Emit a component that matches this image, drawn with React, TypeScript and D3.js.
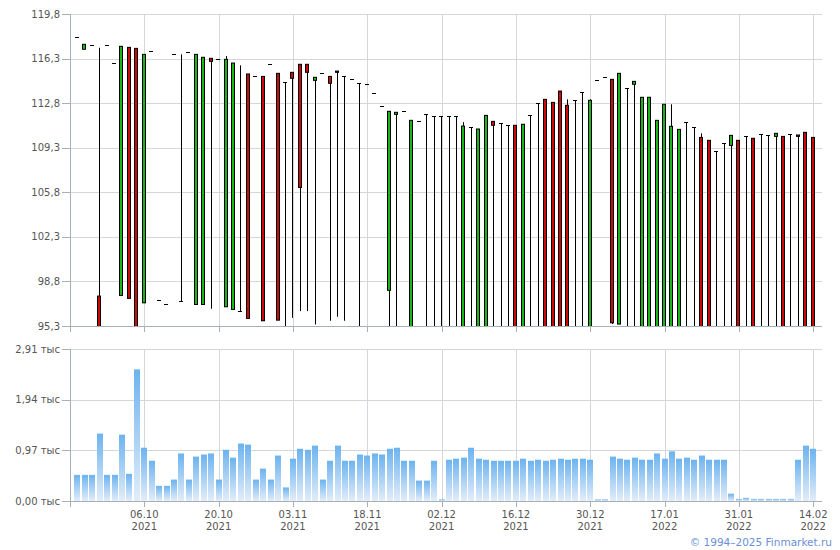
import React from "react";
import * as d3 from "d3";

// ---- Data ----
const openP = [
  117.97, 117.03, 117.34, 97.65, 117.34, 115.93, 97.7, 117.18, 117.1, 97.12,
  116.87, 97.31, 96.99, 116.63, 97.23, 116.79, 96.99, 96.99, 116.32, 116.24,
  96.81, 96.6, 96.44, 115.09, 114.9, 114.9, 115.85, 115.14, 114.46, 115.22,
  115.85, 115.85, 114.59, 115.14, 114.9, 115.32, 114.9, 114.67, 114.36, 114.28,
  113.57, 112.55, 98.1, 111.92, 112.16, 95.0, 111.37, 111.92, 111.76, 111.76,
  111.76, 111.76, 95.0, 110.92, 95.0, 95.0, 111.37, 111.21, 111.06, 111.06,
  95.0, 111.84, 112.78, 113.1, 112.86, 113.75, 112.63, 113.02, 113.65, 95.0,
  114.59, 114.83, 114.67, 95.45, 113.96, 114.28, 95.0, 95.0, 95.0, 95.0,
  95.0, 95.0, 111.29, 110.9, 110.11, 109.88, 109.01, 109.64, 109.48, 109.88,
  110.19, 110.04, 110.35, 110.27, 110.19, 110.19, 110.35, 110.3, 110.51, 110.11,
];
const closeP = [
  117.97, 117.42, 117.34, 95.0, 117.34, 115.93, 117.26, 97.47, 95.0, 116.63,
  116.87, 97.31, 96.99, 116.63, 97.23, 116.79, 116.63, 116.4, 116.08, 116.24,
  116.24, 115.95, 96.44, 95.9, 114.9, 95.71, 115.85, 95.76, 114.46, 114.75,
  106.18, 115.22, 114.83, 115.14, 114.36, 115.22, 114.9, 114.67, 114.36, 114.28,
  113.57, 112.55, 112.16, 112.08, 112.16, 111.45, 111.37, 111.92, 111.76, 111.76,
  111.76, 111.76, 111.0, 110.92, 110.77, 111.84, 111.06, 111.21, 111.06, 95.0,
  111.14, 111.84, 112.78, 95.0, 95.0, 95.0, 95.0, 113.02, 113.65, 113.02,
  114.59, 114.83, 95.55, 115.14, 113.96, 114.51, 113.26, 113.26, 111.45, 112.71,
  110.98, 110.74, 111.29, 110.9, 95.0, 95.0, 109.01, 109.64, 110.27, 95.0,
  110.19, 95.0, 110.35, 110.27, 110.43, 95.0, 110.35, 110.19, 95.0, 95.0,
];
const highP = [
  117.97, 117.42, 117.34, 117.15, 117.34, 115.93, 117.26, 117.18, 117.1, 116.63,
  116.87, 97.31, 96.99, 116.63, 116.63, 116.79, 116.63, 116.4, 116.32, 116.24,
  116.5, 115.95, 115.77, 115.09, 114.9, 114.9, 115.85, 115.14, 114.46, 115.22,
  115.85, 115.85, 114.83, 115.14, 114.9, 115.32, 114.9, 114.67, 114.36, 114.28,
  113.57, 112.55, 112.16, 112.08, 112.16, 111.45, 111.37, 111.92, 111.76, 111.76,
  111.76, 111.76, 111.31, 110.92, 110.77, 111.84, 111.37, 111.21, 111.06, 111.06,
  111.14, 111.84, 112.78, 113.1, 112.86, 113.75, 113.1, 113.02, 113.65, 113.1,
  114.59, 114.83, 114.67, 115.14, 113.96, 114.51, 113.26, 113.26, 111.45, 112.71,
  112.71, 110.74, 111.29, 110.9, 110.43, 109.88, 109.01, 109.64, 110.27, 109.88,
  110.19, 110.04, 110.35, 110.27, 110.43, 110.19, 110.35, 110.3, 110.51, 110.11,
];
const lowP = [
  117.97, 117.03, 117.34, 95.0, 117.34, 115.93, 97.7, 97.47, 95.0, 97.12,
  116.87, 97.31, 96.99, 116.63, 97.23, 116.79, 96.99, 96.99, 96.65, 116.24,
  96.81, 96.6, 96.44, 95.9, 114.9, 95.71, 115.85, 95.76, 95.0, 95.94,
  96.47, 96.47, 95.42, 115.14, 95.71, 96.02, 95.71, 114.67, 95.0, 114.28,
  113.57, 112.55, 95.0, 95.0, 112.16, 95.0, 111.37, 95.0, 95.0, 95.0,
  95.0, 95.0, 95.0, 95.0, 95.0, 95.0, 95.0, 95.0, 95.0, 95.0,
  95.0, 95.0, 95.0, 95.0, 95.0, 95.0, 95.0, 95.0, 95.0, 95.0,
  114.59, 114.83, 95.45, 95.45, 95.0, 95.0, 95.0, 95.0, 95.0, 95.0,
  95.0, 95.0, 95.0, 95.0, 95.0, 95.0, 95.0, 95.0, 95.0, 95.0,
  95.0, 95.0, 95.0, 95.0, 95.0, 95.0, 95.0, 95.0, 95.0, 95.0,
];
const volume = [
  0.5, 0.5, 0.5, 1.29, 0.5, 0.5, 1.27, 0.52, 2.52, 1.02,
  0.77, 0.29, 0.29, 0.41, 0.91, 0.41, 0.85, 0.89, 0.91, 0.41,
  0.98, 0.83, 1.1, 1.08, 0.41, 0.62, 0.41, 0.87, 0.26, 0.81,
  1.0, 0.98, 1.06, 0.41, 0.77, 1.06, 0.77, 0.77, 0.89, 0.87,
  0.91, 0.89, 1.0, 1.02, 0.77, 0.77, 0.39, 0.39, 0.77, 0.03,
  0.79, 0.81, 0.83, 1.02, 0.81, 0.79, 0.77, 0.77, 0.77, 0.77,
  0.81, 0.77, 0.79, 0.77, 0.79, 0.81, 0.79, 0.81, 0.81, 0.79,
  0.03, 0.03, 0.85, 0.81, 0.79, 0.83, 0.79, 0.79, 0.91, 0.81,
  0.95, 0.81, 0.83, 0.79, 0.87, 0.79, 0.79, 0.79, 0.14, 0.04,
  0.06, 0.04, 0.04, 0.04, 0.04, 0.04, 0.04, 0.79, 1.06, 1.0,
];
const priceTicks = [95.3, 98.8, 102.3, 105.8, 109.3, 112.8, 116.3, 119.8];
const volTicks = [0, 0.97, 1.94, 2.91];
const dateTickIdx = [9, 19, 29, 39, 49, 59, 69, 79, 89, 99];
const dateTickDay = ["06.10", "20.10", "03.11", "18.11", "02.12", "16.12", "30.12", "17.01", "31.01", "14.02"];
const dateTickYear = ["2021", "2021", "2021", "2021", "2021", "2021", "2021", "2022", "2022", "2022"];

const W = 840;
const H = 550;
const plotL = 70;
const plotR = 822;
const pTop = 14;
const pBot = 326;
const vTop = 349;
const vBot = 501;
const gridColor = "#d3d7db";
const axisColor = "#a9afb6";
const textColor = "#555";
const font = "'DejaVu Sans', Verdana, sans-serif";

export default function App() {
  const n = closeP.length;
  const x = d3.scaleLinear().domain([0, n - 1]).range([77.4, 813.2]);
  const yP = d3.scaleLinear().domain([95.3, 119.8]).range([pBot, pTop]);
  const yV = d3.scaleLinear().domain([0, 2.91]).range([vBot, vTop]);
  const fmtP = (v: number) => d3.format(".1f")(v).replace(".", ",");
  const fmtV = (v: number) => d3.format(".2f")(v).replace(".", ",") + " тыс";
  const px = (v: number) => Math.round(v) + 0.5;

  const candles = d3.range(n).map((i) => {
    const cx = Math.floor(x(i));
    const o = openP[i], c = closeP[i], h = highP[i], l = lowP[i];
    const wx = cx + 0.5;
    const els: React.ReactNode[] = [];
    if (h !== l) {
      els.push(
        <line key="w" x1={wx} x2={wx} y1={yP(h)} y2={yP(l)} stroke="#000" strokeWidth={1} />
      );
    }
    if (o === c) {
      const yy = px(yP(o));
      els.push(<line key="d" x1={cx - 2} x2={cx + 2} y1={yy} y2={yy} stroke="#000" strokeWidth={1} />);
    } else {
      const top = yP(Math.max(o, c));
      const bot = yP(Math.min(o, c));
      els.push(
        <rect
          key="b"
          x={cx - 1.5}
          y={top}
          width={3}
          height={Math.max(bot - top, 0.5)}
          fill={c > o ? "#19b819" : "#cc0a0a"}
          stroke="#000"
          strokeWidth={1}
        />
      );
    }
    return <g key={i}>{els}</g>;
  });

  return (
    <svg
      width={W}
      height={H}
      style={{ position: "absolute", left: 0, top: 0, background: "#fff" }}
      fontFamily={font}
    >
      <defs>
        <clipPath id="pclip">
          <rect x={plotL} y={pTop - 2} width={plotR - plotL} height={pBot - pTop + 2} />
        </clipPath>
        <linearGradient id="vgrad" x1="0" y1="0" x2="0" y2="1">
          <stop offset="0%" stopColor="#6cb3ef" />
          <stop offset="100%" stopColor="#e2edf9" />
        </linearGradient>
      </defs>

      {/* ---------- price panel ---------- */}
      {priceTicks.map((t) => (
        <line key={"pg" + t} x1={plotL} x2={plotR} y1={px(yP(t))} y2={px(yP(t))} stroke={gridColor} />
      ))}
      {dateTickIdx.map((i) => (
        <line key={"pv" + i} x1={px(x(i))} x2={px(x(i))} y1={pTop} y2={pBot} stroke={gridColor} />
      ))}
      <g clipPath="url(#pclip)">{candles}</g>
      <line x1={px(plotL)} x2={px(plotL)} y1={pTop} y2={pBot + 6} stroke={axisColor} />
      <line x1={plotL} x2={plotR} y1={px(pBot)} y2={px(pBot)} stroke={axisColor} />
      {priceTicks.map((t) => (
        <g key={"pt" + t}>
          <line x1={62} x2={plotL} y1={px(yP(t))} y2={px(yP(t))} stroke={axisColor} />
          <text x={60} y={yP(t)} dy="0.35em" textAnchor="end" fontSize={10} fill={textColor}>
            {fmtP(t)}
          </text>
        </g>
      ))}
      {dateTickIdx.map((i) => (
        <line key={"ptx" + i} x1={px(x(i))} x2={px(x(i))} y1={pBot} y2={pBot + 6} stroke={axisColor} />
      ))}

      {/* ---------- volume panel ---------- */}
      {volTicks.map((t) => (
        <line key={"vg" + t} x1={plotL} x2={plotR} y1={px(yV(t))} y2={px(yV(t))} stroke={gridColor} />
      ))}
      {dateTickIdx.map((i) => (
        <line key={"vv" + i} x1={px(x(i))} x2={px(x(i))} y1={vTop} y2={vBot} stroke={gridColor} />
      ))}
      {volume.map((v, i) => {
        const top = yV(v);
        return (
          <rect
            key={"vb" + i}
            x={Math.round(x(i) - 3)}
            y={top}
            width={6}
            height={Math.max(vBot - top, 0)}
            fill="url(#vgrad)"
          />
        );
      })}
      <line x1={px(plotL)} x2={px(plotL)} y1={vTop} y2={vBot + 6} stroke={axisColor} />
      <line x1={plotL} x2={plotR} y1={px(vBot)} y2={px(vBot)} stroke={axisColor} />
      {volTicks.map((t) => (
        <g key={"vt" + t}>
          <line x1={62} x2={plotL} y1={px(yV(t))} y2={px(yV(t))} stroke={axisColor} />
          <text x={60} y={yV(t)} dy="0.35em" textAnchor="end" fontSize={10} fill={textColor}>
            {fmtV(t)}
          </text>
        </g>
      ))}
      {dateTickIdx.map((i, k) => (
        <g key={"vtx" + i}>
          <line x1={px(x(i))} x2={px(x(i))} y1={vBot} y2={vBot + 6} stroke={axisColor} />
          <text x={x(i)} y={517.5} textAnchor="middle" fontSize={10} fill={textColor}>
            {dateTickDay[k]}
          </text>
          <text x={x(i)} y={529.5} textAnchor="middle" fontSize={10} fill={textColor}>
            {dateTickYear[k]}
          </text>
        </g>
      ))}

      <text x={832} y={546} textAnchor="end" fontSize={10.5} fill="#6a8fd8">
        © 1994–2025 Finmarket.ru
      </text>
    </svg>
  );
}
